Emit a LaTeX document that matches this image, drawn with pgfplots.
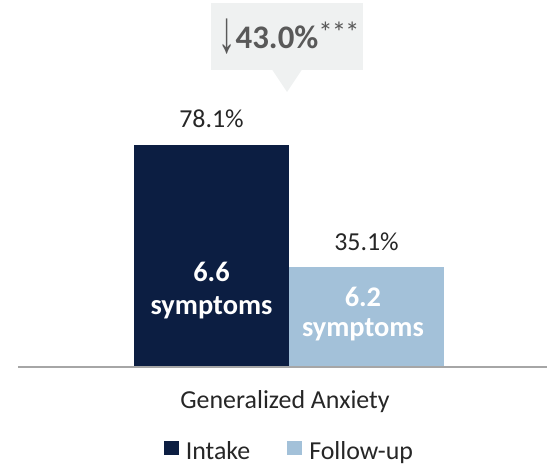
\documentclass[border=0pt]{standalone}
\usepackage{pgfplots}
\pgfplotsset{compat=1.18}
\usepackage{fontspec}
\setmainfont{Carlito}
\newfontfamily\arrowfont{Liberation Sans}
\definecolor{navy}{HTML}{0C1E42}
\definecolor{lightblue}{HTML}{A3C1D9}
\definecolor{calloutbg}{HTML}{EFF1F1}
\definecolor{txt}{HTML}{262626}
\definecolor{calltxt}{HTML}{595959}
\definecolor{basegray}{HTML}{A6A6A6}
\begin{document}
\begin{tikzpicture}
\begin{axis}[
  at={(0,0)}, anchor=south west,
  scale only axis, width=548bp, height=367bp,
  xmin=-1.3645, xmax=2.171, ymin=0, ymax=129.13,
  axis lines=none, ticks=none,
  ybar, bar width=1, bar shift=0pt,
  clip=false,
  legend columns=2,
  legend style={at={(0.529,-0.229)}, anchor=center, draw=none, fill=none,
    font=\fontsize{26}{30}\selectfont, text=txt,
    /tikz/every even column/.append style={column sep=34bp},
    nodes={inner sep=3bp}},
  legend image code/.code={\fill[#1,draw=none] (0bp,-4bp) rectangle (15bp,10bp); \path (19bp,0bp);},
]
\addplot[fill=navy, draw=none] coordinates {(0,78.1)};
\addlegendentry{Intake}
\addplot[fill=lightblue, draw=none] coordinates {(1,35.1)};
\addlegendentry{Follow-up}
\draw[basegray, line width=1.5bp] (axis cs:-1.2484,0) -- (axis cs:2.164,0);
\node[anchor=base, inner sep=0pt, text=txt, font=\fontsize{26}{30}\selectfont] at (axis cs:0,78.1) [yshift=18bp] {78.1\%};
\node[anchor=base, inner sep=0pt, text=txt, font=\fontsize{26}{30}\selectfont] at (axis cs:1,35.1) [yshift=17bp] {35.1\%};
\node[anchor=base, inner sep=0pt, text=white, font=\bfseries\fontsize{28.5}{30}\selectfont] at (axis cs:0,30.0) {6.6};
\node[anchor=base, inner sep=0pt, text=white, font=\bfseries\fontsize{28.5}{30}\selectfont] at (axis cs:0,18.65) {symptoms};
\node[anchor=base, inner sep=0pt, text=white, font=\bfseries\fontsize{28.5}{30}\selectfont] at (axis cs:0.977,21.2) {6.2};
\node[anchor=base, inner sep=0pt, text=white, font=\bfseries\fontsize{28.5}{30}\selectfont] at (axis cs:0.977,10.56) {symptoms};
\end{axis}
% picture coordinates: axis bottom-left at (0,0); top of picture at 367bp; bottom at -98bp
\fill[calloutbg] (211bp,297bp) rectangle (363bp,364bp);
\fill[calloutbg] (272bp,297.5bp) -- (302bp,297.5bp) -- (287bp,275bp) -- cycle;
\node[anchor=base, inner sep=0pt, text=calltxt] at (289bp,319bp)
  {\raisebox{-4bp}{\scalebox{1.15}[2.0]{\arrowfont\fontsize{30}{36}\selectfont ↓}}{\bfseries\fontsize{33}{38}\selectfont 43.0\%}\raisebox{6bp}{\fontsize{29}{30}\selectfont *\kern-1bp*\kern-1bp*}};
\node[anchor=base, inner sep=0pt, text=txt, font=\fontsize{26}{30}\selectfont] at (285bp,-41bp) {Generalized Anxiety};
\path (0,-98bp) rectangle (548bp,367bp);
\end{tikzpicture}
\end{document}
